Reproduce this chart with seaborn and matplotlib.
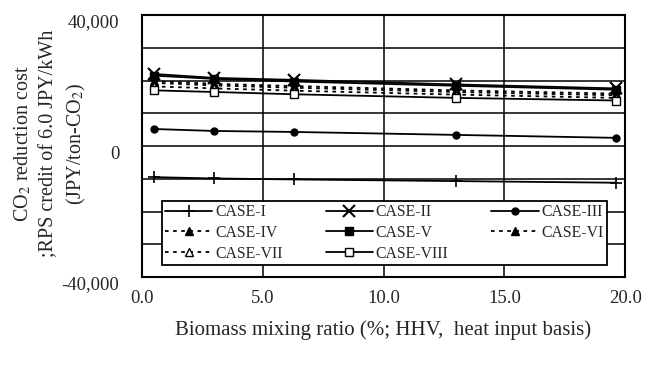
import matplotlib
matplotlib.use('Agg')
import matplotlib.pyplot as plt
import matplotlib.transforms as mtransforms
import seaborn as sns
from matplotlib.ticker import MultipleLocator, FuncFormatter

sns.set_style("white")
plt.rcParams['font.family'] = ['Liberation Serif', 'DejaVu Serif']
plt.rcParams['mathtext.fontset'] = 'stix'

# biomass mixing ratio (%) and CO2 reduction cost (JPY/ton-CO2)
mixing_ratio = [0.5, 3.0, 6.3, 13.0, 19.6]
case_names = ['CASE-I', 'CASE-II', 'CASE-III', 'CASE-IV',
              'CASE-V', 'CASE-VI', 'CASE-VII', 'CASE-VIII']
case_i = [-9500, -9900, -10200, -10700, -11200]
case_ii = [22000, 20800, 20200, 18800, 17600]
case_iii = [5200, 4600, 4300, 3400, 2500]
case_iv = [19800, 19000, 18300, 17000, 16000]
case_v = [21500, 20500, 19700, 18400, 17200]
case_vi = [19300, 18500, 17800, 16500, 15500]
case_vii = [18200, 17600, 16900, 15700, 14700]
case_viii = [17000, 16500, 15800, 14700, 13900]
series = [case_i, case_ii, case_iii, case_iv, case_v, case_vi, case_vii, case_viii]

dotted = (0, (2.0, 2.5))
styles = [
    dict(marker='+', ls='-', mfc='black', ms=9, mew=1.2),
    dict(marker='x', ls='-', mfc='black', ms=8, mew=1.5),
    dict(marker='o', ls='-', mfc='black', ms=5),
    dict(marker='^', ls=dotted, mfc='black', ms=6),
    dict(marker='s', ls='-', mfc='black', ms=6),
    dict(marker='^', ls=dotted, mfc='black', ms=6),
    dict(marker='^', ls=dotted, mfc='white', ms=6),
    dict(marker='s', ls='-', mfc='white', ms=6),
]

fig = plt.figure(figsize=(6.5, 3.66), dpi=100)
ax = fig.add_axes([0.218, 0.243, 0.744, 0.716])

ax.set_xlim(0, 20)
ax.set_ylim(-40000, 40000)
ax.xaxis.set_major_locator(MultipleLocator(5))
ax.yaxis.set_major_locator(MultipleLocator(40000))
ax.yaxis.set_minor_locator(MultipleLocator(10000))
ax.grid(True, which='both', color='black', linewidth=1.1)
ax.set_axisbelow(True)

for name, vals, st in zip(case_names, series, styles):
    sns.lineplot(x=mixing_ratio, y=vals, ax=ax, color='black', linewidth=1.3,
                 marker=st['marker'], linestyle=st['ls'], markersize=st['ms'],
                 markerfacecolor=st['mfc'], markeredgecolor='black',
                 markeredgewidth=st.get('mew', 1.0), label=name)

ax.yaxis.set_major_formatter(FuncFormatter(lambda v, p: f'{v:,.0f}'))
ax.xaxis.set_major_formatter(FuncFormatter(lambda v, p: f'{v:.1f}'))
ax.tick_params(axis='both', which='both', length=0, labelsize=13.5)
ax.tick_params(axis='y', pad=16)
ax.tick_params(axis='x', pad=9)
# y labels sit a little below their gridlines in the original
shift = mtransforms.ScaledTranslation(0, -6 / 100, fig.dpi_scale_trans)
for lab in ax.get_yticklabels():
    lab.set_transform(lab.get_transform() + shift)
for sp in ax.spines.values():
    sp.set_color('black')
    sp.set_linewidth(1.5)

ax.set_xlabel('Biomass mixing ratio (%; HHV,  heat input basis)', fontsize=15, labelpad=10)
ax.set_ylabel('CO$_2$ reduction cost\n;RPS credit of 6.0 JPY/kWh\n(JPY/ton-CO$_2$)',
              fontsize=14.5, linespacing=1.4)
ax.yaxis.set_label_coords(-0.112, 0.51)

# row-wise legend order (matplotlib fills columns first)
handles, labels = ax.get_legend_handles_labels()
order = [0, 3, 6, 1, 4, 7, 2, 5]
leg = ax.legend([handles[i] for i in order], [labels[i] for i in order],
                loc='lower left', bbox_to_anchor=(0.041, 0.046, 0.922, 0.248),
                mode='expand', ncol=3, fontsize=11.3, frameon=True, fancybox=False,
                framealpha=1, edgecolor='black', handlelength=3.0,
                borderaxespad=0, labelspacing=0.3, borderpad=0.22, handletextpad=0.2)
leg.get_frame().set_linewidth(1.3)

fig.savefig('out.png', dpi=100)
